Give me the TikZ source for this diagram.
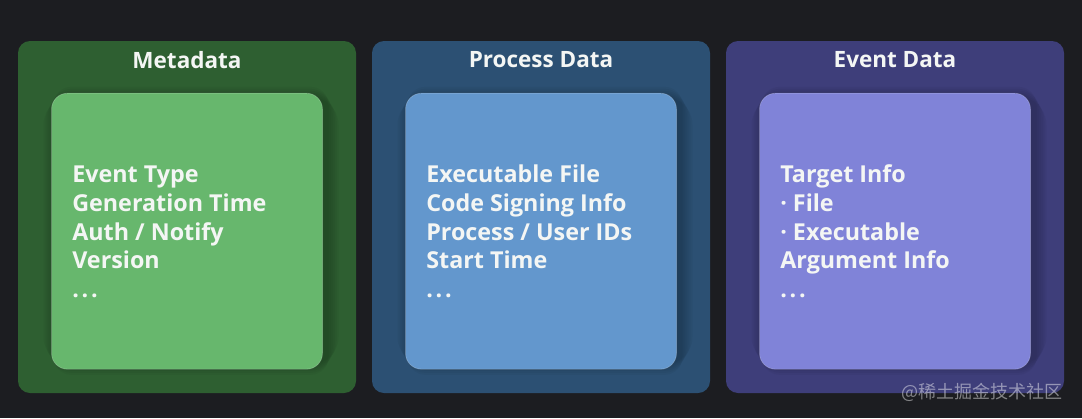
\documentclass[tikz,border=0pt]{standalone}
\usepackage{fontspec}
\setmainfont{Open Sans}
\newfontfamily\cjkfont{Noto Sans CJK SC}
\usetikzlibrary{positioning}

\definecolor{bgdark}{HTML}{1C1D21}
\definecolor{metaOut}{HTML}{2E5F31}
\definecolor{metaIn}{HTML}{67B76D}
\definecolor{procOut}{HTML}{2C5073}
\definecolor{procIn}{HTML}{6397CD}
\definecolor{evtOut}{HTML}{3E3E7A}
\definecolor{evtIn}{HTML}{8083D8}
\definecolor{txt}{HTML}{F4F6F4}

\newcommand{\moredots}{.\kern0.12em.\kern0.12em.}

\begin{document}
\begin{tikzpicture}[x=1pt,y=-1pt,
  outerbox/.style={rounded corners=12pt, minimum width=338pt, minimum height=352pt, inner sep=0pt},
  innerbox/.style={rounded corners=16pt, minimum width=271pt, minimum height=276pt, inner sep=0pt,
    draw=white, draw opacity=0.2, line width=0.8pt},
  title/.style={text=txt, font=\bfseries\fontsize{22.5}{26}\selectfont},
  item/.style={text=txt, anchor=base west, inner sep=0pt, font=\bfseries\fontsize{23.3}{27}\selectfont}]


% GLOBAL SETTINGS
\newcommand{\lineskipdist}{28.7}
\newcommand{\textx}{21}
\newcommand{\texty}{90}

% BACKGROUND
\fill[bgdark] (0,0) rectangle (1082,418);

% PANELS
\foreach \p/\x/\ttl in {meta/187/Metadata, proc/541/Process Data, evt/895/Event Data} {
\node[outerbox, fill=\p Out] (\p Outer) at (\x,217) {};
% soft shadow
\foreach \s in {2,4,...,12}
  \fill[black, opacity=0.035, rounded corners=16pt+\s pt]
    ([xshift=-135.5pt-\s pt+4pt,yshift=-52pt-\s pt+8pt]\p Outer.north) rectangle ([xshift=135.5pt+\s pt+4pt,yshift=-328pt+\s pt-8pt]\p Outer.north);
\node[innerbox, fill=\p In, below=52pt of \p Outer.north] (\p Inner) {};
\node[title] (\p Title) at ([yshift=-19pt]\p Outer.north) {\ttl};
}

% ITEMS
\path (metaInner.north west) foreach \t [count=\i] in {Event Type, Generation Time, Auth / Notify, Version, \moredots} {
+(\textx,\texty+\lineskipdist*\i-\lineskipdist) node[item] (metaL\i) {\t}
};
%
\path (procInner.north west) foreach \t [count=\i] in {Executable File, Code Signing Info, Process / User IDs, Start Time, \moredots} {
+(\textx,\texty+\lineskipdist*\i-\lineskipdist) node[item] (procL\i) {\t}
};
%
\path (evtInner.north west) foreach \t [count=\i] in {Target Info, · File, · Executable, Argument Info, \moredots} {
+(\textx,\texty+\lineskipdist*\i-\lineskipdist) node[item] (evtL\i) {\t}
};

% WATERMARK
\node[anchor=east, text=white, text opacity=0.45, font=\cjkfont\fontsize{18}{20}\selectfont] (mark) at (1066,392) {@稀土掘金技术社区};

\end{tikzpicture}
\end{document}
